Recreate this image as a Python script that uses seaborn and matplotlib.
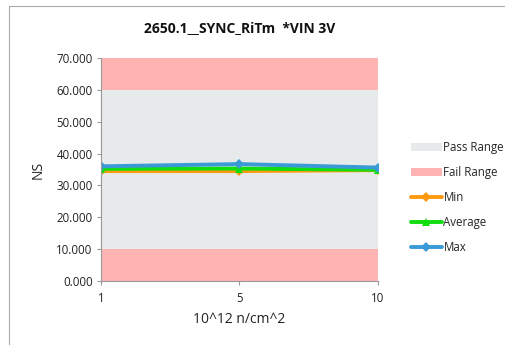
import seaborn as sns
import pandas as pd
import matplotlib.pyplot as plt
from matplotlib.lines import Line2D
from matplotlib.ticker import FormatStrFormatter

# data
fluence = ['1', '5', '10']
min_ns = [34.5, 34.5, 34.8]
avg_ns = [35.2, 35.3, 34.9]
max_ns = [36.0, 36.7, 35.6]
fail_low = [10, 10, 10]
pass_band = [50, 50, 50]
fail_high = [10, 10, 10]

sns.set_theme(style='white')
plt.rcParams['font.family'] = ['Open Sans', 'DejaVu Sans']

pos = list(range(len(fluence)))
df = pd.DataFrame({
    'pos': pos * 3,
    'value': min_ns + avg_ns + max_ns,
    'series': ['Min'] * 3 + ['Average'] * 3 + ['Max'] * 3,
})

pass_col = '#e6eaea'
fail_col = '#ffb3b3'
palette = {'Min': '#ff9a10', 'Average': '#11dd11', 'Max': '#3a9ad6'}

fig = plt.figure(figsize=(5.05, 3.45), dpi=100)
ax = fig.add_axes([0.2, 0.1855, 0.5485, 0.6464])

ax.stackplot(pos, fail_low, pass_band, fail_high,
             colors=[fail_col, pass_col, fail_col], linewidth=0,
             labels=['Fail Range', 'Pass Range', '_nolegend_'])
sns.lineplot(data=df, x='pos', y='value', hue='series', style='series',
             markers={'Min': 'D', 'Average': '^', 'Max': 'D'}, dashes=False,
             palette=palette, linewidth=2.8, markersize=5.5, markeredgewidth=0,
             ax=ax)

ax.set_xlim(0, 2)
ax.set_ylim(0, 70)
ax.set_yticks(range(0, 71, 10))
ax.yaxis.set_major_formatter(FormatStrFormatter('%.3f'))
ax.set_xticks(pos)
ax.set_xticklabels(fluence)
ax.set_xlabel('10^12 n/cm^2', fontsize=10, color='#222222', labelpad=5)
ax.set_ylabel('NS', fontsize=10, color='#222222', labelpad=8)
ax.set_title('2650.1__SYNC_RiTm  *VIN 3V', fontsize=10, fontweight='bold',
             color='#111111', pad=19)

for s in ['top', 'right']:
    ax.spines[s].set_visible(False)
for s in ['left', 'bottom']:
    ax.spines[s].set_color('#999999')
    ax.spines[s].set_linewidth(0.8)
ax.tick_params(axis='both', direction='out', length=3, width=0.8,
               color='#999999', labelsize=8.3, labelcolor='#222222', pad=3)
ax.tick_params(axis='y', left=True)
ax.tick_params(axis='x', bottom=True, pad=5)

handles, labels = ax.get_legend_handles_labels()
hmap = dict(zip(labels, handles))
order = ['Pass Range', 'Fail Range', 'Min', 'Average', 'Max']
ax.legend([hmap[k] for k in order], order, loc='center left',
          bbox_to_anchor=(1.08, 0.375), frameon=False, fontsize=8.3,
          handlelength=2.7, labelspacing=1.05, handletextpad=0.15)

# chart area border
fig.add_artist(Line2D([9 / 505, 9 / 505], [0, 1 - 6 / 345], color='#aaaaaa', lw=0.8))
fig.add_artist(Line2D([9 / 505, 1], [1 - 6 / 345, 1 - 6 / 345], color='#aaaaaa', lw=0.8))

fig.savefig('out.png', dpi=100)
